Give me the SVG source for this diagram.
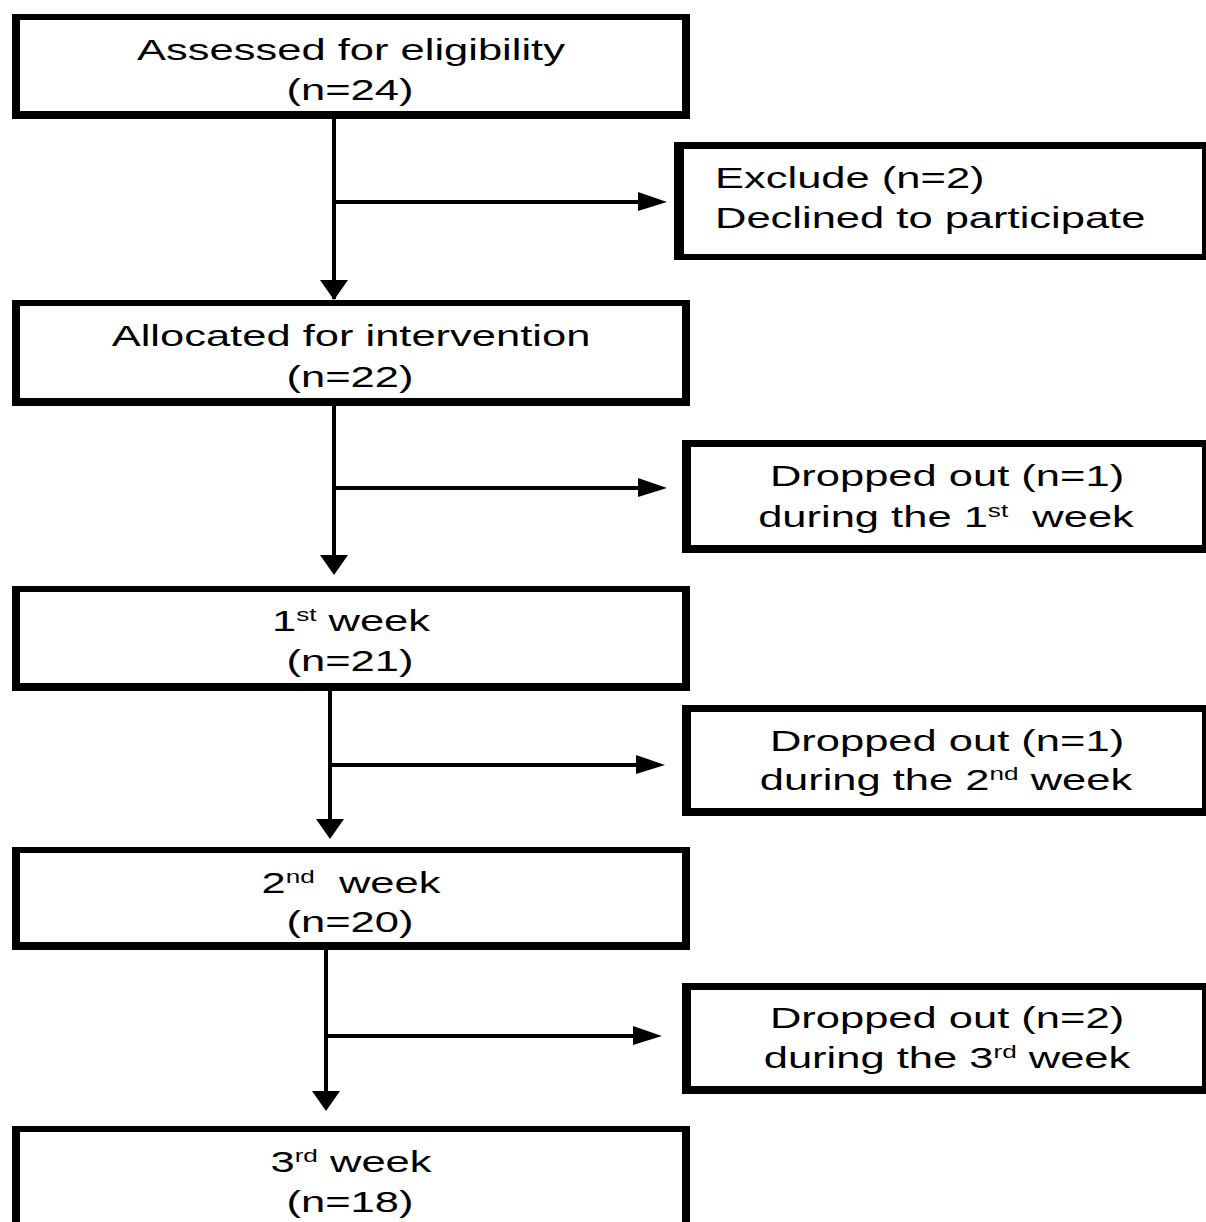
<svg xmlns="http://www.w3.org/2000/svg" width="1206" height="1222" viewBox="0 0 1206 1222">
<style>
.ob{fill:#000}
.ib{fill:#fff}
.t{font-family:"Liberation Sans",Arial,sans-serif;font-size:30px;fill:#000}
.c{stroke:#000;stroke-width:4;fill:none}
</style>
<defs>
<marker id="ad" markerUnits="userSpaceOnUse" markerWidth="28" markerHeight="20" refX="10" refY="19" orient="0" viewBox="0 0 28 20"><path d="M0,0 L28,0 L14,20 Z" fill="#000"/></marker>
<marker id="ar" markerUnits="userSpaceOnUse" markerWidth="30" markerHeight="18" refX="29" refY="9" orient="0" viewBox="0 0 30 18"><path d="M0,0 L30,9 L0,18 Z" fill="#000"/></marker>
</defs>
<rect width="1206" height="1222" fill="#fff"/>
<g id="connectors">
<line class="c" x1="334" y1="118" x2="334" y2="299"/>
<polygon points="320,280 348,280 334,300" fill="#000"/>
<line class="c" x1="334" y1="202" x2="640" y2="202"/>
<polygon points="638,192 667,202 638,211" fill="#000"/>
<line class="c" x1="334" y1="405" x2="334" y2="556"/>
<polygon points="320,555 348,555 334,575" fill="#000"/>
<line class="c" x1="334" y1="488" x2="640" y2="488"/>
<polygon points="638,478 667,488 638,497" fill="#000"/>
<line class="c" x1="330" y1="690" x2="330" y2="820"/>
<polygon points="316,819 344,819 330,839" fill="#000"/>
<line class="c" x1="330" y1="765" x2="638" y2="765"/>
<polygon points="636,755 665,765 636,774" fill="#000"/>
<line class="c" x1="326" y1="949" x2="326" y2="1092"/>
<polygon points="312,1091 340,1091 326,1111" fill="#000"/>
<line class="c" x1="326" y1="1036" x2="635" y2="1036"/>
<polygon points="633,1026 662,1036 633,1045" fill="#000"/>
</g>
<g id="n1">
<rect class="ob" x="12" y="14" width="678" height="105"/>
<rect class="ib" x="20" y="20" width="662" height="91"/>
<g transform="translate(351,60) scale(1.45,1)"><text class="t" text-anchor="middle">Assessed for eligibility</text></g>
<g transform="translate(350,100) scale(1.45,1)"><text class="t" text-anchor="middle">(n=24)</text></g>
</g>
<g id="n_excl">
<rect class="ob" x="674" y="142" width="540" height="118"/>
<rect class="ib" x="684" y="149" width="518" height="105"/>
<g transform="translate(715,188) scale(1.45,1)"><text class="t">Exclude (n=2)</text></g>
<g transform="translate(715,228) scale(1.45,1)"><text class="t">Declined to participate</text></g>
</g>
<g id="n2">
<rect class="ob" x="12" y="300" width="678" height="106"/>
<rect class="ib" x="20" y="306" width="662" height="92"/>
<g transform="translate(351,346) scale(1.45,1)"><text class="t" text-anchor="middle">Allocated for intervention</text></g>
<g transform="translate(350,387) scale(1.45,1)"><text class="t" text-anchor="middle">(n=22)</text></g>
</g>
<g id="n_d1">
<rect class="ob" x="682" y="440" width="540" height="113"/>
<rect class="ib" x="691" y="447" width="511" height="98"/>
<g transform="translate(947,486) scale(1.45,1)"><text class="t" text-anchor="middle">Dropped out (n=1)</text></g>
<g transform="translate(946,527) scale(1.45,1)"><text class="t" text-anchor="middle">during the 1<tspan font-size="18" dy="-10">st</tspan><tspan dy="10">&#160; week</tspan></text></g>
</g>
<g id="n3">
<rect class="ob" x="12" y="586" width="678" height="105"/>
<rect class="ib" x="20" y="592" width="662" height="91"/>
<g transform="translate(351,631) scale(1.45,1)"><text class="t" text-anchor="middle">1<tspan font-size="18" dy="-10">st</tspan><tspan dy="10"> week</tspan></text></g>
<g transform="translate(350,671) scale(1.45,1)"><text class="t" text-anchor="middle">(n=21)</text></g>
</g>
<g id="n_d2">
<rect class="ob" x="682" y="705" width="540" height="111"/>
<rect class="ib" x="691" y="712" width="511" height="96"/>
<g transform="translate(947,751) scale(1.45,1)"><text class="t" text-anchor="middle">Dropped out (n=1)</text></g>
<g transform="translate(946,790) scale(1.45,1)"><text class="t" text-anchor="middle">during the 2<tspan font-size="18" dy="-10">nd</tspan><tspan dy="10"> week</tspan></text></g>
</g>
<g id="n4">
<rect class="ob" x="12" y="847" width="678" height="103"/>
<rect class="ib" x="20" y="853" width="662" height="89"/>
<g transform="translate(351,893) scale(1.45,1)"><text class="t" text-anchor="middle">2<tspan font-size="18" dy="-10">nd</tspan><tspan dy="10">&#160; week</tspan></text></g>
<g transform="translate(350,932) scale(1.45,1)"><text class="t" text-anchor="middle">(n=20)</text></g>
</g>
<g id="n_d3">
<rect class="ob" x="682" y="983" width="540" height="111"/>
<rect class="ib" x="691" y="990" width="511" height="96"/>
<g transform="translate(947,1028) scale(1.45,1)"><text class="t" text-anchor="middle">Dropped out (n=2)</text></g>
<g transform="translate(947,1068) scale(1.45,1)"><text class="t" text-anchor="middle">during the 3<tspan font-size="18" dy="-10">rd</tspan><tspan dy="10"> week</tspan></text></g>
</g>
<g id="n5">
<rect class="ob" x="12" y="1126" width="678" height="110"/>
<rect class="ib" x="20" y="1132" width="662" height="100"/>
<g transform="translate(351,1172) scale(1.45,1)"><text class="t" text-anchor="middle">3<tspan font-size="18" dy="-10">rd</tspan><tspan dy="10"> week</tspan></text></g>
<g transform="translate(350,1212) scale(1.45,1)"><text class="t" text-anchor="middle">(n=18)</text></g>
</g>
</svg>
